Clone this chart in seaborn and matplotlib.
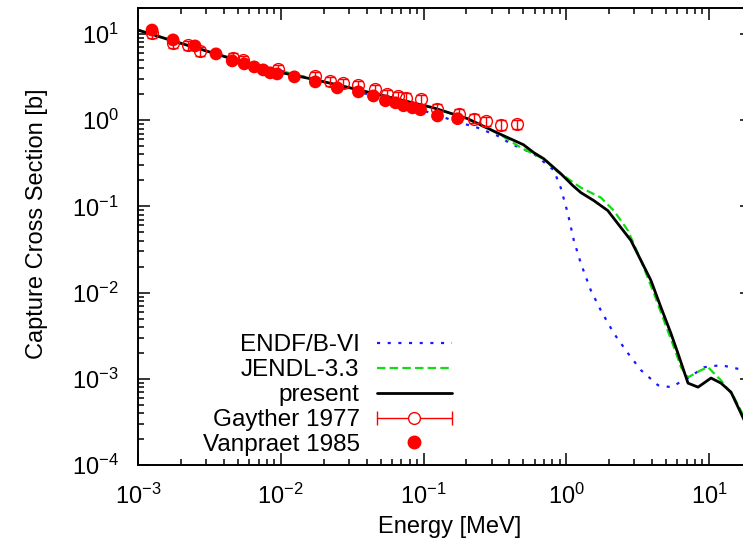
import numpy as np
import pandas as pd
import matplotlib
matplotlib.use('Agg')
import matplotlib.pyplot as plt
import seaborn as sns
from matplotlib.lines import Line2D
from matplotlib.legend_handler import HandlerLine2D, HandlerTuple

# present evaluation (black)
pres_e = [0.001, 0.00176, 0.00352, 0.00753, 0.0175, 0.035, 0.069, 0.1175, 0.204, 0.347,
          0.501, 0.592, 0.695, 0.914, 1.026, 1.112, 1.265, 1.560, 1.954, 2.296, 2.838,
          3.334, 3.917, 4.603, 5.408, 6.053, 6.902, 7.129, 8.375, 10.33, 12.13, 14.26,
          17.62, 20.0]
pres_s = [11.1, 8.30, 5.87, 3.94, 2.94, 2.25, 1.72, 1.39, 1.04, 0.684,
          0.519, 0.420, 0.357, 0.240, 0.199, 0.174, 0.1445, 0.1167, 0.0893, 0.0632, 0.0402,
          0.0236, 0.01384, 0.00675, 0.00337, 0.00198, 0.00104, 0.00089, 0.00080, 0.00102,
          0.00089, 0.00070, 0.000332, 0.000224]

# ENDF/B-VI (blue)
endf_e = [0.001, 0.00352, 0.0175, 0.035, 0.069, 0.1175, 0.1626, 0.2393, 0.330, 0.408,
          0.592, 0.817, 0.914, 1.026, 1.130, 1.265, 1.486, 1.746, 2.153, 2.704, 3.334,
          4.385, 5.408, 7.129, 9.23, 12.13, 17.62, 20.0]
endf_s = [11.1, 5.87, 2.94, 2.14, 1.55, 1.186, 0.984, 0.817, 0.659, 0.533,
          0.408, 0.263, 0.165, 0.0826, 0.0402, 0.0218, 0.0106, 0.00622, 0.00337, 0.00198,
          0.00126, 0.000843, 0.00080, 0.00102, 0.00136, 0.00144, 0.00126, 0.00123]

# JENDL-3.3 (green)
jendl_e = [0.001, 0.00352, 0.0175, 0.035, 0.069, 0.1175, 0.204, 0.347, 0.480, 0.695,
           0.871, 1.026, 1.265, 1.746, 2.153, 2.704, 3.334, 4.111, 4.831, 5.675, 6.368,
           7.129, 8.79, 9.84, 12.13, 14.96, 17.62, 20.0]
jendl_s = [11.1, 5.87, 2.94, 2.25, 1.72, 1.39, 1.03, 0.676, 0.48, 0.355,
           0.251, 0.210, 0.165, 0.1265, 0.0893, 0.0525, 0.0236, 0.0098, 0.00476, 0.00232,
           0.00136, 0.00104, 0.00126, 0.00136, 0.00096, 0.000612, 0.00036, 0.00025]

# Gayther 1977 (open circles)
gay_e = [0.001254, 0.00176, 0.00224, 0.00272, 0.00465, 0.00546, 0.0096, 0.01746, 0.0222,
         0.0275, 0.035, 0.046, 0.0558, 0.0658, 0.0748, 0.0953, 0.1253, 0.176, 0.2244,
         0.272, 0.347, 0.450]
gay_s = [10.3, 7.87, 7.46, 6.36, 5.3, 5.0, 3.94, 3.27, 2.86,
         2.71, 2.57, 2.31, 2.02, 1.91, 1.82, 1.77, 1.36, 1.19, 1.04,
         0.98, 0.885, 0.908]
gay_rel_err = 0.12

# Vanpraet 1985 (filled circles)
van_e = [0.001254, 0.00176, 0.00251, 0.00352, 0.00457, 0.00555, 0.00652, 0.00753, 0.00843,
         0.00944, 0.01245, 0.01746, 0.0249, 0.035, 0.0446, 0.0541, 0.0637, 0.0725, 0.0838,
         0.0953, 0.1253, 0.1734]
van_s = [11.1, 8.53, 7.26, 5.87, 4.87, 4.50, 4.15, 3.83, 3.54,
         3.44, 3.18, 2.78, 2.37, 2.13, 1.91, 1.68, 1.59, 1.47, 1.39,
         1.32, 1.12, 1.04]

sns.set_style('ticks')
plt.rcParams['font.family'] = ['Liberation Sans', 'DejaVu Sans']
plt.rcParams['mathtext.fontset'] = 'custom'
plt.rcParams['mathtext.rm'] = 'Liberation Sans'
plt.rcParams['mathtext.it'] = 'Liberation Sans'
plt.rcParams['mathtext.default'] = 'regular'
plt.rcParams['font.size'] = 17
plt.rcParams['text.color'] = 'black'
plt.rcParams['axes.labelcolor'] = 'black'
plt.rcParams['axes.edgecolor'] = 'black'
plt.rcParams['xtick.color'] = 'black'
plt.rcParams['ytick.color'] = 'black'

blue = '#1a1aff'
green = '#11dd11'
red = '#ff0000'
dot = (0, (1.4, 3.4))
dash = (0, (3.8, 1.9))

fig = plt.figure(figsize=(7.43, 5.47), dpi=100)
ax = fig.add_axes([138 / 743, (547 - 465) / 547, 614 / 743, 457 / 547])

sns.lineplot(x=endf_e, y=endf_s, ax=ax, color=blue, linestyle=dot, linewidth=1.6, sort=False)
sns.lineplot(x=jendl_e, y=jendl_s, ax=ax, color=green, linestyle=dash, linewidth=1.6, sort=False)
sns.lineplot(x=pres_e, y=pres_s, ax=ax, color='black', linewidth=2.0, sort=False)

gay = np.array(gay_s)
ax.errorbar(gay_e, gay_s, yerr=gay * gay_rel_err, fmt='o', mfc='none', mec=red, mew=1.0,
            ms=8.5, ecolor=red, elinewidth=1.0, capsize=3.5, capthick=1.0, zorder=4)
sns.scatterplot(x=van_e, y=van_s, ax=ax, color=red, s=85, edgecolor='none', zorder=5)

ax.set_xscale('log')
ax.set_yscale('log')
ax.set_xlim(1e-3, 20)
ax.set_ylim(1e-4, 20)

for s in ax.spines.values():
    s.set_linewidth(1.4)
    s.set_color('black')
    s.set_visible(True)
ax.xaxis.set_ticks_position('both')
ax.yaxis.set_ticks_position('both')
ax.tick_params(which='both', direction='in', top=True, right=True, width=1.1,
               labelsize=17, colors='black')
ax.tick_params(which='major', length=8.5)
ax.tick_params(which='minor', length=4.3)
ax.tick_params(axis='y', pad=14)
ax.tick_params(axis='x', pad=13.5)

ax.set_xlabel('Energy [MeV]', fontsize=17)
ax.set_ylabel('Capture Cross Section [b]', fontsize=17)
ax.xaxis.set_label_coords((450 - 138) / 614, (465 - 527) / 457)
ax.xaxis.label.set_va('center')
ax.yaxis.set_label_coords((37 - 138) / 614, (465 - 224) / 457)
ax.yaxis.label.set_va('center')

h_endf = Line2D([], [], color=blue, linestyle=dot, linewidth=1.6)
h_jendl = Line2D([], [], color=green, linestyle=dash, linewidth=1.6)
h_pres = Line2D([], [], color='black', linewidth=2.0)
gay_line = Line2D([], [], color=red, linewidth=1.0, marker='|', markersize=10, markeredgewidth=1.0)
gay_circ = Line2D([], [], linestyle='none', marker='o', mfc='white', mec=red, mew=1.0, markersize=8.5)
h_van = Line2D([], [], linestyle='none', marker='o', color=red, markersize=9)

ax.legend([h_endf, h_jendl, h_pres, (gay_line, gay_circ), h_van],
          ['ENDF/B-VI', 'JENDL-3.3', 'present', 'Gayther 1977', 'Vanpraet 1985'],
          handler_map={gay_line: HandlerLine2D(numpoints=2, marker_pad=0),
                       tuple: HandlerTuple(ndivide=1, pad=0)},
          markerfirst=False, frameon=False, loc='lower right',
          bbox_to_anchor=((452 - 138) / 614, (465 - 456) / 457),
          borderpad=0, borderaxespad=0, handlelength=3.1, handletextpad=0.7,
          labelspacing=0.12, fontsize=17.5)

fig.savefig('out.png', dpi=100)
